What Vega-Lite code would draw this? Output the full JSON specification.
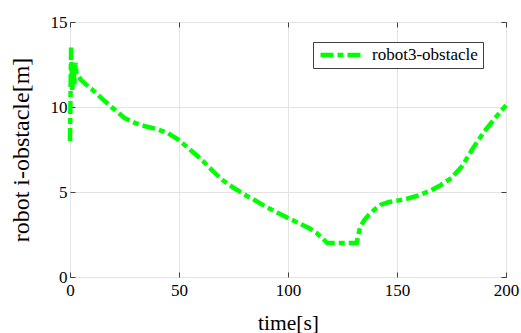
{
  "$schema": "https://vega.github.io/schema/vega-lite/v6.json",
  "width": 436,
  "height": 255,
  "autosize": {"type": "none"},
  "padding": {"left": 70, "top": 22, "right": 15, "bottom": 56},
  "background": "white",
  "config": {
    "font": "Liberation Serif",
    "view": {"stroke": "#404040", "strokeWidth": 1},
    "axis": {
      "domain": false,
      "grid": true,
      "gridColor": "#e3e3e3",
      "gridWidth": 1,
      "tickColor": "#404040",
      "tickSize": -5,
      "labelFlush": false,
      "labelFont": "Liberation Serif",
      "labelFontSize": 17,
      "labelColor": "#000000",
      "titleFont": "Liberation Serif",
      "titleFontSize": 21.5,
      "titleFontWeight": "normal",
      "titleColor": "#000000"
    }
  },
  "data": {
    "values": [
      {"t": 0, "d": 8.0},
      {"t": 0.5, "d": 13.5},
      {"t": 1.0, "d": 11.0},
      {"t": 1.5, "d": 12.4},
      {"t": 2.0, "d": 11.3},
      {"t": 2.5, "d": 12.6},
      {"t": 3.0, "d": 11.9},
      {"t": 4, "d": 11.8},
      {"t": 5, "d": 11.6},
      {"t": 7.5, "d": 11.3},
      {"t": 10, "d": 11.05},
      {"t": 15, "d": 10.45},
      {"t": 20, "d": 9.9},
      {"t": 25, "d": 9.35},
      {"t": 30, "d": 9.05},
      {"t": 35, "d": 8.85},
      {"t": 40, "d": 8.7},
      {"t": 45, "d": 8.45},
      {"t": 50, "d": 8.05},
      {"t": 55, "d": 7.5},
      {"t": 60, "d": 6.95},
      {"t": 65, "d": 6.3},
      {"t": 70, "d": 5.7},
      {"t": 75, "d": 5.25},
      {"t": 80, "d": 4.85},
      {"t": 85, "d": 4.5},
      {"t": 90, "d": 4.12},
      {"t": 95, "d": 3.8},
      {"t": 100, "d": 3.47},
      {"t": 105, "d": 3.17},
      {"t": 110, "d": 2.85},
      {"t": 113, "d": 2.6},
      {"t": 116, "d": 2.25},
      {"t": 118, "d": 2.0},
      {"t": 125, "d": 2.0},
      {"t": 131.5, "d": 2.0},
      {"t": 133, "d": 2.9},
      {"t": 135, "d": 3.35},
      {"t": 137, "d": 3.65},
      {"t": 140, "d": 4.0},
      {"t": 142.5, "d": 4.25},
      {"t": 146, "d": 4.4},
      {"t": 150, "d": 4.49},
      {"t": 155, "d": 4.62},
      {"t": 160, "d": 4.8},
      {"t": 165, "d": 5.07},
      {"t": 170, "d": 5.4},
      {"t": 175, "d": 5.82},
      {"t": 180, "d": 6.55},
      {"t": 185, "d": 7.6},
      {"t": 190, "d": 8.55},
      {"t": 195, "d": 9.35},
      {"t": 200, "d": 10.1}
    ]
  },
  "layer": [
    {
      "mark": {"type": "line", "strokeWidth": 4.5, "strokeDash": [13, 4, 6, 4]},
      "encoding": {
        "x": {
          "field": "t", "type": "quantitative", "title": "time[s]",
          "scale": {"domain": [0, 200], "nice": false},
          "axis": {"values": [0, 50, 100, 150, 200], "labelPadding": 10, "titlePadding": 14}
        },
        "y": {
          "field": "d", "type": "quantitative", "title": "robot i-obstacle[m]",
          "scale": {"domain": [0, 15], "nice": false},
          "axis": {"values": [0, 5, 10, 15], "labelPadding": 8, "titlePadding": 17, "titleFontSize": 24}
        },
        "color": {
          "datum": "robot3-obstacle",
          "type": "nominal",
          "scale": {"range": ["#00ff00"]},
          "legend": {
            "title": null,
            "orient": "none",
            "legendX": 243,
            "legendY": 20,
            "symbolType": "stroke",
            "symbolSize": 1936,
            "symbolStrokeWidth": 4.5,
            "symbolDash": [13, 4, 6, 4],
            "clipHeight": 16,
            "labelFont": "Liberation Serif",
            "labelFontSize": 17,
            "labelColor": "#000000",
            "labelOffset": 5,
            "padding": 5,
            "strokeColor": "#404040",
            "fillColor": "#ffffff",
            "cornerRadius": 0
          }
        }
      }
    },
    {
      "mark": {"type": "line", "opacity": 0},
      "encoding": {
        "x": {
          "field": "t", "type": "quantitative",
          "scale": {"domain": [0, 200], "nice": false},
          "axis": {"orient": "top", "values": [0, 50, 100, 150, 200], "labels": false, "title": null, "grid": false}
        },
        "y": {
          "field": "d", "type": "quantitative",
          "scale": {"domain": [0, 15], "nice": false},
          "axis": {"orient": "right", "values": [0, 5, 10, 15], "labels": false, "title": null, "grid": false}
        }
      }
    }
  ],
  "resolve": {"axis": {"x": "independent", "y": "independent"}}
}
